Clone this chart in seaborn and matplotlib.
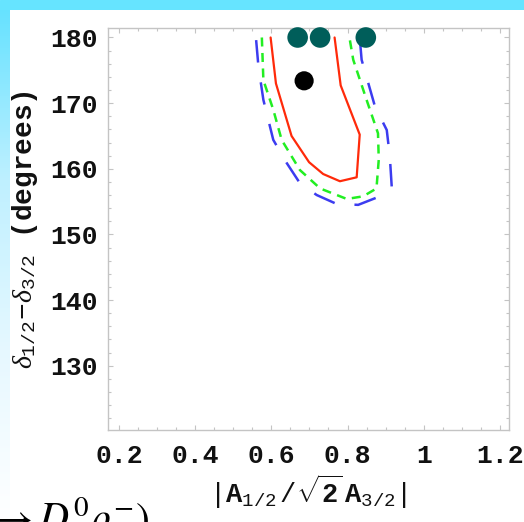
import numpy as np
import pandas as pd
import matplotlib
matplotlib.use("Agg")
import matplotlib.pyplot as plt
from matplotlib.ticker import MultipleLocator
from matplotlib.colors import LinearSegmentedColormap
import seaborn as sns

# ---- data ----
red_x = [0.598, 0.612, 0.653, 0.699, 0.736, 0.780, 0.824, 0.832, 0.782, 0.766]
red_y = [180.0, 173.0, 165.0, 161.0, 159.2, 158.1, 158.7, 165.2, 172.7, 180.0]

green_x = [0.575, 0.579, 0.605, 0.627, 0.675, 0.728, 0.798, 0.841, 0.876, 0.882, 0.880, 0.850, 0.815, 0.805]
green_y = [180.0, 173.5, 169.0, 164.4, 159.8, 157.0, 155.4, 155.8, 157.0, 161.4, 165.4, 170.5, 176.6, 180.0]

blue_x = [0.560, 0.566, 0.579, 0.605, 0.640, 0.675, 0.719, 0.771, 0.828, 0.885, 0.916, 0.911, 0.903, 0.872, 0.837, 0.832]
blue_y = [179.6, 175.6, 170.5, 164.4, 160.9, 157.8, 156.0, 154.65, 154.5, 155.8, 157.3, 161.9, 165.9, 169.5, 176.6, 180.0]

teal_x = [0.669, 0.728, 0.848]
teal_y = [180.0, 180.0, 180.0]

black_x = [0.686]
black_y = [173.4]

x_ticks = [0.2, 0.4, 0.6, 0.8, 1.0, 1.2]
x_tick_labels = ["0.2", "0.4", "0.6", "0.8", "1", "1.2"]
y_ticks = [130, 140, 150, 160, 170, 180]
y_tick_labels = ["130", "140", "150", "160", "170", "180"]

# ---- figure ----
sns.set_theme(style="white")
plt.rcParams["font.family"] = ["Liberation Mono", "DejaVu Sans"]
plt.rcParams["mathtext.fontset"] = "custom"
plt.rcParams["mathtext.rm"] = "Liberation Mono"
plt.rcParams["mathtext.it"] = "Liberation Serif:italic"
plt.rcParams["mathtext.bf"] = "Liberation Mono:bold"

W, H = 524, 522
fig = plt.figure(figsize=(W / 100, H / 100), dpi=100)
fig.patch.set_facecolor("white")

# decorative slide border (cyan strips)
top_ax = fig.add_axes([0, 1 - 10 / H, 1, 10 / H])
top_ax.set_axis_off()
top_ax.add_patch(plt.Rectangle((0, 0), 1, 1, color="#66e4ff", transform=top_ax.transAxes))

left_ax = fig.add_axes([0, 0, 10 / W, 1 - 10 / H])
grad = np.linspace(0, 1, 256).reshape(-1, 1)
cmap = LinearSegmentedColormap.from_list("edge", ["#ffffff", "#e6f8ff", "#bff0ff", "#66e2ff"])
left_ax.imshow(grad, aspect="auto", cmap=cmap, origin="lower", extent=[0, 1, 0, 1])
left_ax.set_axis_off()

ax = fig.add_axes([108 / W, 1 - 430 / H, 401 / W, 401.7 / H])

df_red = pd.DataFrame({"x": red_x, "y": red_y})
df_green = pd.DataFrame({"x": green_x, "y": green_y})
df_blue = pd.DataFrame({"x": blue_x, "y": blue_y})

sns.lineplot(data=df_blue, x="x", y="y", sort=False, estimator=None, ax=ax,
             color="#3c3cf0", lw=1.8, linestyle=(0, (9, 8)))
sns.lineplot(data=df_green, x="x", y="y", sort=False, estimator=None, ax=ax,
             color="#22ee22", lw=1.8, linestyle=(0, (3.6, 2.6)))
sns.lineplot(data=df_red, x="x", y="y", sort=False, estimator=None, ax=ax,
             color="#ff2a0a", lw=1.6)

sns.scatterplot(x=teal_x, y=teal_y, ax=ax, color="#005e5a", s=220, edgecolor="none", zorder=5, clip_on=False)
sns.scatterplot(x=black_x, y=black_y, ax=ax, color="black", s=190, edgecolor="none", zorder=5)

ax.set_xlim(0.171, 1.224)
ax.set_ylim(120.2, 181.4)

ax.set_xticks(x_ticks)
ax.set_xticklabels(x_tick_labels)
ax.set_yticks(y_ticks)
ax.set_yticklabels(y_tick_labels)
ax.xaxis.set_minor_locator(MultipleLocator(0.05))
ax.yaxis.set_minor_locator(MultipleLocator(2))

for sp in ax.spines.values():
    sp.set_color("#c4c4c4")
    sp.set_linewidth(1.0)

ax.tick_params(which="both", direction="in", top=True, right=True, bottom=True, left=True,
               color="#c4c4c4", width=0.8)
ax.tick_params(which="major", length=3.5)
ax.tick_params(which="minor", length=2)
ax.tick_params(axis="x", which="major", pad=10, labelsize=19, labelcolor="#111111")
ax.tick_params(axis="y", which="major", pad=7, labelsize=19, labelcolor="#111111")
for lab in ax.get_xticklabels() + ax.get_yticklabels():
    lab.set_fontweight("bold")

ax.set_xlabel(r"$|\mathbf{A}_{1/2}\,/\sqrt{\mathbf{2}}\,\mathbf{A}_{3/2}|$", fontsize=19.5, color="#111111")
ax.xaxis.set_label_coords(0.499, -0.154)
ax.xaxis.label.set_va("center")

ax.set_ylabel(r"$\delta_{1/2}\!-\!\delta_{3/2}$" + " (degrees)", fontsize=20, color="#111111",
              fontweight="bold")
ax.yaxis.set_label_coords(-0.207, 0.50)
ax.yaxis.label.set_va("center")

# fragment of slide text cut off at the bottom-left
fig.text(-12 / W, (H - 532) / H, r"$\rightarrow D^0\rho^{-})$", fontsize=30, color="black",
         math_fontfamily="stix", ha="left", va="baseline")

fig.savefig("out.png", dpi=100)
